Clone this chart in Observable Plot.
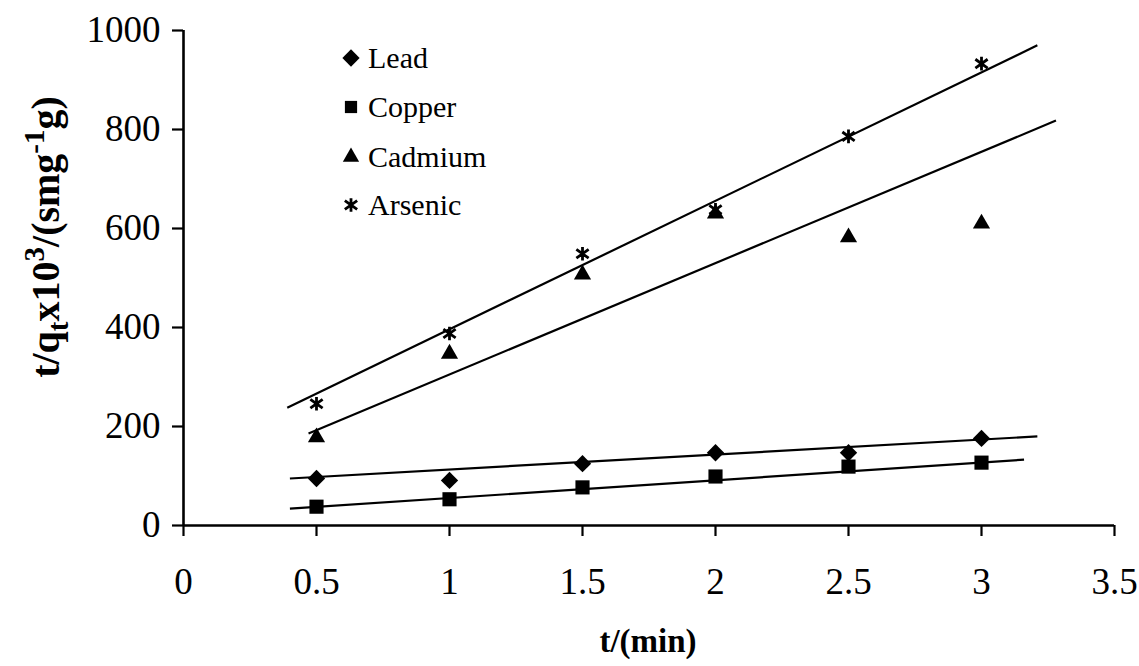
<!DOCTYPE html>
<html>
<head>
<meta charset="utf-8">
<script src="https://cdn.jsdelivr.net/npm/d3@7"></script>
<script src="https://cdn.jsdelivr.net/npm/@observablehq/plot@0.6"></script>
<style>
  body { margin: 0; background: #fff; }
  #chart { position: relative; width: 1139px; height: 666px; }
  #chart svg text { font-family: "Liberation Serif", "Times New Roman", serif; }
</style>
</head>
<body>
<div id="chart"></div>
<script>
// Sampling times (min)
const times = [0.5, 1, 1.5, 2, 2.5, 3];

// t/qt x10^3 for each metal
const lead    = [95, 91, 125, 147, 147, 176];
const copper  = [38, 53, 77, 99, 119, 127];
const cadmium = [178, 347, 507, 630, 582, 610];
const arsenic = [246, 388, 549, 638, 786, 933];

// Fitted straight lines: start/end time and value at each end
const fitNames  = ["Lead", "Copper", "Cadmium", "Arsenic"];
const fitT1     = [0.40, 0.40, 0.47, 0.39];
const fitT2     = [3.21, 3.16, 3.28, 3.21];
const fitV1     = [95, 34, 186, 238];
const fitV2     = [180, 133, 818, 970];

const xTicks = [0, 0.5, 1, 1.5, 2, 2.5, 3, 3.5];
const yTicks = [0, 200, 400, 600, 800, 1000];

const seriesNames = ["Lead", "Copper", "Cadmium", "Arsenic"];
const seriesValues = [lead, copper, cadmium, arsenic];

const rows = seriesNames.flatMap((name, i) =>
  times.map((t, j) => ({ metal: name, t, v: seriesValues[i][j] }))
);
const fits = fitNames.map((name, i) => ({
  metal: name, t1: fitT1[i], t2: fitT2[i], v1: fitV1[i], v2: fitV2[i]
}));

// Excel-like star: vertical bar with an X through it
const star = {
  draw(context, size) {
    const r = Math.sqrt(size) * 0.6;
    const a = r * 0.9;
    const b = r * 0.65;
    context.moveTo(0, -r); context.lineTo(0, r);
    context.moveTo(-a, -b); context.lineTo(a, b);
    context.moveTo(-a, b); context.lineTo(a, -b);
  }
};

const markStyle = {
  Lead:    { symbol: "diamond2", r: 7.8, fill: "black" },
  Copper:  { symbol: "square2",  r: 9.0, fill: "black" },
  Cadmium: { symbol: "triangle2", r: 8.2, fill: "black" },
  Arsenic: { symbol: star, r: 6.4, stroke: "black", strokeWidth: 2.8, fill: "none" }
};

const dots = seriesNames.map(name =>
  Plot.dot(rows.filter(d => d.metal === name), {
    x: "t", y: "v", ...markStyle[name]
  })
);

const serif = '"Liberation Serif", "Times New Roman", serif';

const chart = Plot.plot({
  width: 1139,
  height: 666,
  marginLeft: 183,
  marginRight: 25,
  marginTop: 30,
  marginBottom: 141,
  style: { fontFamily: serif, fontSize: "37px", color: "black", background: "white" },
  x: { domain: [0, 3.5] },
  y: { domain: [0, 1000] },
  marks: [
    Plot.axisX({ ticks: xTicks, tickSize: 11, tickPadding: 31, tickFormat: d => String(d), label: null, strokeWidth: 2.2 }),
    Plot.axisY({ ticks: yTicks, tickSize: 11, tickPadding: 12, tickFormat: d => String(d), label: null, strokeWidth: 2.2 }),
    Plot.ruleY([0], { stroke: "black", strokeWidth: 2.6 }),
    Plot.ruleX([0], { stroke: "black", strokeWidth: 2.6 }),
    Plot.link(fits, { x1: "t1", y1: "v1", x2: "t2", y2: "v2", stroke: "black", strokeWidth: 2.2 }),
    ...dots
  ]
});

document.getElementById("chart").appendChild(chart);

const svg = d3.select(chart);

// x-axis title
svg.append("text")
  .attr("x", 648).attr("y", 652)
  .attr("text-anchor", "middle")
  .style("font-weight", "bold").style("font-size", "33px")
  .attr("fill", "black")
  .text("t/(min)");

// y-axis title with sub- and superscripts
const yTitle = svg.append("text")
  .attr("text-anchor", "start")
  .style("font-weight", "bold").style("font-size", "40px")
  .attr("fill", "black");
yTitle.append("tspan").text("t/q");
yTitle.append("tspan").style("font-size", "29px").attr("dy", 9).text("t");
yTitle.append("tspan").attr("dy", -9).text("x10");
yTitle.append("tspan").style("font-size", "29px").attr("dy", -15).text("3");
yTitle.append("tspan").attr("dy", 15).text("/(smg");
yTitle.append("tspan").style("font-size", "29px").attr("dy", -15).text("-1");
yTitle.append("tspan").attr("dy", 15).text("g)");
const bb = yTitle.node().getBBox();
const titleCx = 46, titleCy = 237;
yTitle.attr("x", -(bb.x + bb.width / 2))
  .attr("transform", `translate(${titleCx - (bb.y + bb.height / 2)},${titleCy}) rotate(-90)`);

// legend
const legendY = [58, 107, 157, 205];
const legendSym = {
  Lead:    { type: d3.symbolDiamond2, size: 190, fill: "black" },
  Copper:  { type: d3.symbolSquare2,  size: 190, fill: "black" },
  Cadmium: { type: d3.symbolTriangle2, size: 190, fill: "black" },
  Arsenic: { type: star, size: 130, stroke: "black" }
};
const legend = svg.append("g").attr("text-anchor", "start");
seriesNames.forEach((name, i) => {
  const s = legendSym[name];
  legend.append("path")
    .attr("transform", `translate(351,${legendY[i]})`)
    .attr("d", d3.symbol(s.type, s.size)())
    .attr("fill", s.fill || "none")
    .attr("stroke", s.stroke || "none")
    .attr("stroke-width", s.stroke ? 2.8 : 0);
  legend.append("text")
    .attr("x", 368).attr("y", legendY[i] + 10)
    .style("font-size", "30px")
    .attr("fill", "black")
    .text(name);
});
</script>
</body>
</html>
